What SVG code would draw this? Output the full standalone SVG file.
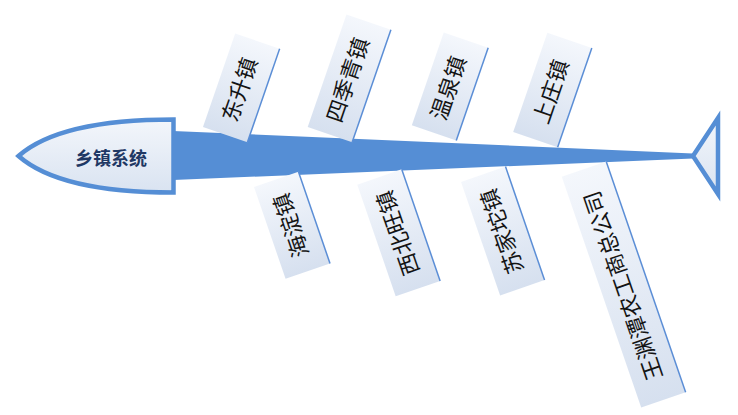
<svg xmlns="http://www.w3.org/2000/svg" width="738" height="415" viewBox="0 0 738 415">
  <defs>
    <linearGradient id="boxGrad" x1="0" y1="0" x2="0" y2="1">
      <stop offset="0" stop-color="#F4F7FC"/>
      <stop offset="1" stop-color="#D6E0EF"/>
    </linearGradient>
    <linearGradient id="headGrad" x1="0" y1="0" x2="0" y2="1">
      <stop offset="0" stop-color="#F3F6FB"/>
      <stop offset="1" stop-color="#D9E3F1"/>
    </linearGradient>
  </defs>
  <style>
    .box { fill: url(#boxGrad); }
    .edge { stroke: #5B8ED6; stroke-width: 1.5; fill: none; }
    .lbl { font-family: "Noto Sans CJK SC", "Noto Sans", sans-serif; font-size: 22px; fill: #141414; text-anchor: middle; dominant-baseline: central; }
    .shape { fill: url(#headGrad); stroke: #558ED5; stroke-width: 4.5; stroke-linejoin: miter; }
    .head-lbl { font-family: "Noto Sans CJK SC", "Noto Sans", sans-serif; font-size: 18px; font-weight: bold; fill: #1F3864; text-anchor: middle; dominant-baseline: central; }
  </style>

  <g id="connectors">
    <polygon id="spine" points="173,131 693,153.5 693,158.5 173,180" fill="#558ED5"/>
  </g>

  <g id="head">
    <path class="shape" d="M173.5,119.5 Q60,119.5 18.5,156 Q60,192.5 173.5,192.5 Z"/>
    <text class="head-lbl" x="111" y="157">乡镇系统</text>
  </g>

  <g id="tail">
    <polygon class="shape" points="718,118 718,194 693,156"/>
  </g>

  <g id="node-dongsheng" transform="translate(241.3,87.9) rotate(19)">
    <rect class="box" x="-23.5" y="-49.5" width="47" height="99"/>
    <line class="edge" x1="23.5" y1="-49.5" x2="23.5" y2="49.5"/>
    <text class="lbl" transform="translate(-3,2) rotate(-90)">东升镇</text>
  </g>

  <g id="node-sijiqing" transform="translate(349.3,78.3) rotate(19)">
    <rect class="box" x="-23.5" y="-59.5" width="47" height="119"/>
    <line class="edge" x1="23.5" y1="-59.5" x2="23.5" y2="59.5"/>
    <text class="lbl" transform="translate(-3,2) rotate(-90)">四季青镇</text>
  </g>

  <g id="node-wenquan" transform="translate(450,86.5) rotate(19)">
    <rect class="box" x="-23.5" y="-49" width="47" height="98"/>
    <line class="edge" x1="23.5" y1="-49" x2="23.5" y2="49"/>
    <text class="lbl" transform="translate(-3,2) rotate(-90)">温泉镇</text>
  </g>

  <g id="node-shangzhuang" transform="translate(552.5,90) rotate(19)">
    <rect class="box" x="-23.5" y="-52.5" width="47" height="105"/>
    <line class="edge" x1="23.5" y1="-52.5" x2="23.5" y2="52.5"/>
    <text class="lbl" transform="translate(-3,2) rotate(-90)">上庄镇</text>
  </g>

  <g id="node-haidian" transform="translate(292,225.2) rotate(-19)">
    <rect class="box" x="-23.5" y="-48.5" width="47" height="97"/>
    <line class="edge" x1="23.5" y1="-48.5" x2="23.5" y2="48.5"/>
    <text class="lbl" transform="translate(-3,0) rotate(-90)">海淀镇</text>
  </g>

  <g id="node-xibeiwang" transform="translate(398.7,232.8) rotate(-19)">
    <rect class="box" x="-23.5" y="-59" width="47" height="118"/>
    <line class="edge" x1="23.5" y1="-59" x2="23.5" y2="59"/>
    <text class="lbl" transform="translate(-3,0) rotate(-90)">西北旺镇</text>
  </g>

  <g id="node-sujiatuo" transform="translate(502.8,231) rotate(-19)">
    <rect class="box" x="-23.5" y="-60" width="47" height="120"/>
    <line class="edge" x1="23.5" y1="-60" x2="23.5" y2="60"/>
    <text class="lbl" transform="translate(-3,0) rotate(-90)">苏家坨镇</text>
  </g>

  <g id="node-yuyuantan" transform="translate(623.7,284.5) rotate(-19)">
    <rect class="box" x="-23.5" y="-122" width="47" height="244"/>
    <line class="edge" x1="23.5" y1="-122" x2="23.5" y2="122"/>
    <text class="lbl" transform="translate(-3,1) rotate(-90)">王渊潭农工商总公司</text>
  </g>
</svg>
